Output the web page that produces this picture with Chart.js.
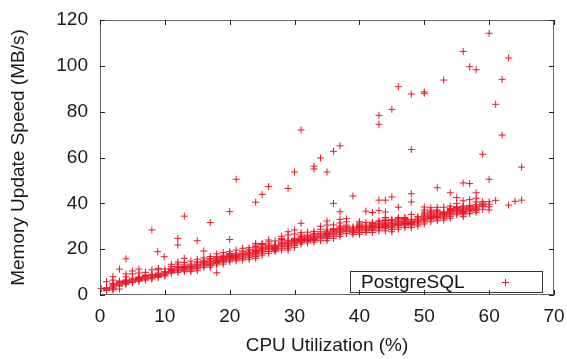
<!DOCTYPE html>
<html>
<head>
<meta charset="utf-8">
<script src="https://cdn.jsdelivr.net/npm/chart.js@4.4.1/dist/chart.umd.min.js"></script>
<style>
  html, body { margin: 0; padding: 0; background: #fff; }
</style>
</head>
<body>
<canvas id="scatterChart" width="567" height="359"></canvas>
<script>
// Memory update speed against CPU utilisation, one PostgreSQL run

const seriesName = 'PostgreSQL';
const xTicks = [0, 10, 20, 30, 40, 50, 60, 70];
const yTicks = [0, 20, 40, 60, 80, 100, 120];

// the dense band: one column of samples per CPU percent
const bandCpu = [1, 2, 3, 4, 5, 6, 7, 8, 9, 10, 11, 12, 13, 14, 15, 16, 17, 18, 19, 20,
    21, 22, 23, 24, 25, 26, 27, 28, 29, 30, 31, 32, 33, 34, 35, 36, 37, 38, 39, 40,
    41, 42, 43, 44, 45, 46, 47, 48, 49, 50, 51, 52, 53, 54, 55, 56, 57, 58, 59, 60];
const bandSpeed = [
    [1.9, 2.3, 2.6, 2.9, 3.2, 5.8],
    [2.2, 2.7, 3.1, 3.5, 3.9, 4.3, 4.7, 5.1, 6.5, 8.0],
    [2.6, 3.9, 4.3, 4.7, 5.1, 5.5, 5.8, 6.1, 11.3],
    [4.7, 5.1, 5.5, 5.9, 6.3, 6.6, 7.9, 9.2, 15.8],
    [5.4, 5.8, 6.2, 6.6, 7.0, 7.3, 9.2, 10.5],
    [6.0, 6.4, 6.8, 7.2, 7.6, 7.9, 9.6, 11.3],
    [6.5, 6.9, 7.3, 7.7, 8.1, 8.5, 8.7, 9.9],
    [7.0, 7.4, 7.8, 8.2, 8.6, 9.0, 11.0],
    [7.7, 8.1, 8.5, 8.9, 9.3, 9.6, 11.0, 11.6],
    [8.3, 8.7, 9.1, 9.5, 9.9, 10.2, 11.3],
    [9.5, 9.9, 10.3, 10.7, 11.1, 11.6, 12.4, 13.4],
    [9.9, 10.5, 10.9, 11.3, 11.7, 12.1, 12.5, 13.5, 14.4],
    [10.2, 10.8, 11.2, 11.6, 12.0, 12.4, 13.1, 14.2, 16.0],
    [10.2, 10.9, 11.3, 11.7, 12.1, 12.5, 13.0, 13.5, 14.8],
    [10.6, 11.4, 11.8, 12.2, 12.6, 13.0, 13.4, 14.0, 14.5, 15.6],
    [12.1, 12.7, 13.1, 13.5, 13.9, 14.3, 14.7, 15.2, 16.2],
    [12.1, 12.8, 13.2, 13.6, 14.0, 14.4, 14.8, 15.3, 15.9, 16.8],
    [13.1, 13.8, 14.2, 14.6, 15.0, 15.4, 15.8, 16.3, 16.7, 18.0],
    [13.5, 14.3, 14.7, 15.1, 15.5, 15.9, 16.3, 16.8, 17.4, 18.6],
    [14.5, 15.2, 15.6, 16.0, 16.4, 16.8, 17.2, 17.6, 18.1, 19.0],
    [14.9, 15.6, 16.0, 16.4, 16.8, 17.2, 17.6, 18.2, 19.6],
    [15.3, 16.0, 16.6, 17.0, 17.4, 17.8, 18.2, 18.8, 19.2, 20.4],
    [15.6, 16.4, 17.0, 17.4, 17.8, 18.2, 18.6, 19.2, 19.8, 20.6],
    [16.0, 16.8, 17.4, 17.8, 18.2, 18.6, 19.0, 19.4, 20.0, 20.6, 21.2, 21.8, 22.5],
    [17.4, 18.2, 18.8, 19.2, 19.6, 20.0, 20.4, 20.8, 21.4, 22.0, 22.5],
    [18.2, 19.0, 19.7, 20.1, 20.5, 20.9, 21.3, 21.7, 22.3, 23.2, 24.0],
    [18.9, 19.5, 19.9, 20.3, 20.7, 21.1, 21.5, 21.8, 23.6],
    [19.6, 20.4, 21.0, 21.4, 21.8, 22.2, 22.6, 23.0, 23.6, 24.2, 24.7, 25.6],
    [19.6, 20.4, 21.0, 21.4, 21.8, 22.2, 22.6, 23.0, 23.5, 23.9, 26.2, 27.6],
    [20.8, 21.6, 22.2, 22.6, 23.0, 23.4, 23.8, 24.2, 24.7, 26.6, 28.4],
    [22.3, 23.0, 23.4, 23.8, 24.2, 24.6, 25.0, 25.5, 26.2, 27.2],
    [22.7, 23.4, 23.8, 24.2, 24.6, 25.0, 25.4, 25.8, 26.2, 27.4],
    [23.1, 23.8, 24.2, 24.6, 25.0, 25.4, 25.8, 26.3, 26.9, 27.8],
    [23.7, 24.5, 25.0, 25.4, 25.8, 26.2, 26.6, 27.0, 27.6, 28.7, 30.0],
    [23.7, 24.6, 25.2, 25.6, 26.0, 26.4, 26.8, 27.2, 27.8, 28.4, 30.5, 32.3],
    [24.7, 25.6, 26.2, 26.6, 27.0, 27.4, 27.8, 28.2, 28.6, 29.1, 30.6, 40.0],
    [25.6, 26.5, 27.1, 27.5, 27.9, 28.3, 28.7, 29.1, 29.6, 30.1, 31.4, 33.0, 36.3],
    [26.9, 27.6, 28.0, 28.4, 28.8, 29.2, 29.6, 30.0, 30.5, 31.9, 33.3],
    [26.5, 27.2, 27.6, 28.0, 28.4, 28.8, 29.2, 29.7, 43.2],
    [26.5, 27.3, 27.9, 28.3, 28.7, 29.1, 29.5, 29.9, 30.4, 30.9, 31.4, 32.0],
    [27.3, 28.0, 28.4, 28.8, 29.2, 29.6, 30.0, 30.5, 31.6, 36.6],
    [27.3, 28.1, 28.7, 29.1, 29.5, 29.9, 30.3, 30.7, 31.2, 31.7, 36.0],
    [28.0, 28.8, 29.4, 29.8, 30.2, 30.6, 31.0, 31.4, 31.9, 32.4, 36.8, 41.4],
    [28.0, 28.9, 29.5, 29.9, 30.3, 30.7, 31.1, 31.5, 31.9, 32.5, 33.1, 33.8, 36.2, 41.4],
    [27.6, 28.6, 29.3, 29.7, 30.1, 30.5, 30.9, 31.3, 31.8, 32.4, 33.0, 42.8],
    [28.7, 29.6, 30.3, 30.7, 31.1, 31.5, 31.9, 32.3, 32.8, 33.3, 33.8, 38.3],
    [29.4, 30.2, 30.8, 31.2, 31.6, 32.0, 32.4, 32.9, 33.4, 33.8],
    [29.4, 30.2, 30.8, 31.2, 31.6, 32.0, 32.4, 33.0, 35.2, 40.6, 44.2],
    [30.1, 30.9, 31.5, 31.9, 32.3, 32.7, 33.1, 33.6, 34.2],
    [31.0, 31.8, 32.4, 32.8, 33.2, 33.6, 34.0, 34.4, 34.9, 35.5, 36.2, 37.1, 38.4],
    [32.0, 32.8, 33.4, 33.8, 34.2, 34.6, 35.0, 35.4, 35.9, 36.5, 37.1, 38.1],
    [32.4, 33.2, 33.8, 34.2, 34.6, 35.0, 35.4, 35.8, 36.3, 36.7, 37.1, 38.3],
    [32.7, 33.5, 34.0, 34.4, 34.8, 35.2, 35.6, 36.0, 36.3, 38.3],
    [33.5, 34.3, 34.9, 35.3, 35.7, 36.1, 36.5, 36.9, 37.3, 37.8, 38.8],
    [35.0, 35.7, 36.2, 36.6, 37.0, 37.4, 37.8, 38.2, 38.5, 39.9],
    [34.2, 35.0, 35.6, 36.0, 36.4, 36.8, 37.2, 37.6, 38.0, 38.4, 38.8, 41.1],
    [35.5, 36.3, 36.8, 37.2, 37.6, 38.0, 38.4, 38.8, 39.1, 41.6],
    [36.1, 36.8, 37.2, 37.6, 38.0, 38.4, 38.8, 39.4, 40.6, 42.2],
    [37.4, 38.5, 38.9, 39.3, 39.7, 40.1, 40.7],
    [37.1, 38.5, 39.6, 40.7]
];

// scattered samples away from the band
const extraCpu = [0.2, 8, 8.9, 9.9, 12, 12, 13, 15, 16, 17, 18, 20, 20, 21, 24, 25, 26, 29, 30,
    31, 31, 33, 33, 34, 35, 36, 37, 43, 43, 45, 46, 48, 48, 50, 50, 52, 53, 54, 55, 56, 56,
    57, 57, 58, 58, 59, 60, 60, 61, 61, 62, 62, 63, 63, 64, 65, 65];
const extraSpeed = [2.8, 28.4, 18.9, 16.7, 24.7, 21.8, 34.4, 23.7, 19.2, 31.6, 9.7, 36.4, 24.2, 50.5, 40.5, 43.9, 47.3, 46.5, 53.7,
    72.0, 31.3, 56.2, 55.0, 59.8, 53.7, 62.7, 65.1, 78.4, 74.5, 81.0, 90.9, 87.7, 63.5, 88.0, 88.6, 46.8, 93.8, 44.6, 42.5, 106.3, 48.9,
    99.6, 48.6, 98.3, 44.6, 61.4, 114.2, 50.5, 83.2, 41.3, 94.1, 69.8, 103.4, 39.2, 40.9, 55.8, 41.4];

const pointColor = 'rgb(232, 24, 40)';
const fontFamily = '"Liberation Sans", Arial, sans-serif';

const points = [];
bandCpu.forEach((cpu, i) => {
    bandSpeed[i].forEach(speed => points.push({ x: cpu, y: speed }));
});
extraCpu.forEach((cpu, i) => points.push({ x: cpu, y: extraSpeed[i] }));

// gnuplot style box: frame, inward ticks on all four sides, key box bottom right
const framePlugin = {
    id: 'frame',
    beforeDatasetsDraw(chart) {
        const { ctx, chartArea: a, scales } = chart;
        ctx.save();
        ctx.strokeStyle = '#666';
        ctx.lineWidth = 1;
        ctx.strokeRect(a.left + 0.5, a.top + 0.5, a.right - a.left - 1, a.bottom - a.top - 1);
        ctx.strokeStyle = '#222';
        ctx.beginPath();
        xTicks.forEach(v => {
            const px = Math.round(scales.x.getPixelForValue(v)) + 0.5;
            ctx.moveTo(px, a.bottom); ctx.lineTo(px, a.bottom - 5);
            ctx.moveTo(px, a.top); ctx.lineTo(px, a.top + 5);
        });
        yTicks.forEach(v => {
            const py = Math.round(scales.y.getPixelForValue(v)) + 0.5;
            ctx.moveTo(a.left, py); ctx.lineTo(a.left + 5, py);
            ctx.moveTo(a.right, py); ctx.lineTo(a.right - 5, py);
        });
        ctx.stroke();
        ctx.restore();
    },
    afterDatasetsDraw(chart) {
        const { ctx, chartArea: a } = chart;
        const boxW = 192, boxH = 21;
        const bx = a.right - 12 - boxW, by = a.bottom - 3 - boxH;
        ctx.save();
        ctx.strokeStyle = '#333';
        ctx.lineWidth = 1;
        ctx.strokeRect(Math.round(bx) + 0.5, Math.round(by) + 0.5, boxW, boxH);
        ctx.fillStyle = '#111';
        ctx.font = '19px ' + fontFamily;
        ctx.textBaseline = 'middle';
        ctx.fillText(seriesName, bx + 11, by + boxH / 2 + 1);
        ctx.strokeStyle = pointColor;
        const mx = bx + 155.5, my = Math.round(by + boxH / 2) + 0.5;
        ctx.beginPath();
        ctx.moveTo(mx - 3.5, my); ctx.lineTo(mx + 3.5, my);
        ctx.moveTo(mx, my - 3.5); ctx.lineTo(mx, my + 3.5);
        ctx.stroke();
        ctx.restore();
    }
};

new Chart(document.getElementById('scatterChart'), {
    type: 'scatter',
    data: {
        datasets: [{
            label: seriesName,
            data: points,
            pointStyle: 'cross',
            pointRadius: 3.5,
            pointBorderWidth: 1,
            borderColor: pointColor,
            backgroundColor: pointColor,
            clip: false
        }]
    },
    options: {
        responsive: false,
        animation: false,
        devicePixelRatio: 1,
        layout: { padding: { top: 20, right: 13, left: 0, bottom: 0 } },
        plugins: {
            legend: { display: false },
            tooltip: { enabled: false }
        },
        scales: {
            x: {
                type: 'linear',
                min: 0,
                max: 70,
                afterFit: s => { s.height = 64; s.paddingLeft = 0; s.paddingRight = 0; },
                afterBuildTicks: s => { s.ticks = xTicks.map(v => ({ value: v })); },
                ticks: { color: '#1a1a1a', padding: 10, font: { family: fontFamily, size: 19 } },
                grid: { display: false, drawTicks: false },
                border: { display: false },
                title: {
                    display: true,
                    text: 'CPU Utilization (%)',
                    color: '#1a1a1a',
                    font: { family: fontFamily, size: 19 },
                    padding: { top: 0, bottom: 2 }
                }
            },
            y: {
                min: 0,
                max: 120,
                afterFit: s => { s.width = 100; s.paddingTop = 0; s.paddingBottom = 0; },
                afterBuildTicks: s => { s.ticks = yTicks.map(v => ({ value: v })); },
                ticks: { color: '#1a1a1a', padding: 12, font: { family: fontFamily, size: 19 } },
                grid: { display: false, drawTicks: false },
                border: { display: false },
                title: {
                    display: true,
                    text: 'Memory Update Speed (MB/s)',
                    color: '#1a1a1a',
                    font: { family: fontFamily, size: 19 },
                    padding: { top: 7, bottom: 0 }
                }
            }
        }
    },
    plugins: [framePlugin]
});
</script>
</body>
</html>
